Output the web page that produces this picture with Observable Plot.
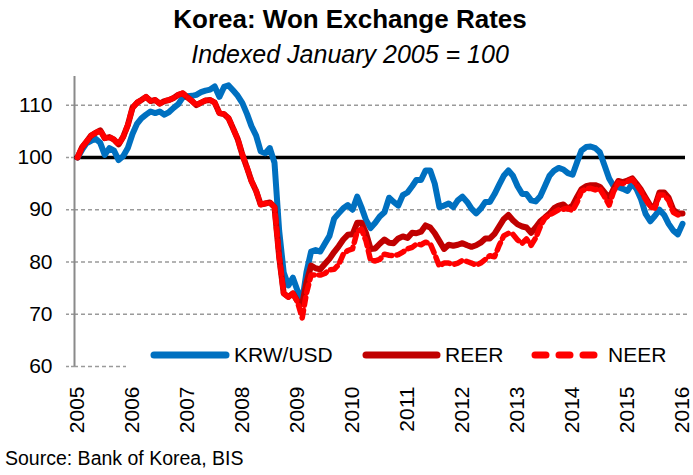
<!DOCTYPE html>
<html>
<head>
<meta charset="utf-8">
<script src="https://cdn.jsdelivr.net/npm/d3@7"></script>
<script src="https://cdn.jsdelivr.net/npm/@observablehq/plot@0.6"></script>
<style>
  html, body { margin: 0; padding: 0; background: #fff; }
  body { font-family: "Liberation Sans", Arial, sans-serif; color: #000; }
  #wrap { position: relative; width: 693px; height: 475px; overflow: hidden; }
  .abs { position: absolute; white-space: nowrap; }
  #title { left: 0; width: 700px; text-align: center; top: 6px; font-size: 26px; line-height: 26px; font-weight: bold; }
  #subtitle { left: 0; width: 700px; text-align: center; top: 42px; font-size: 25px; line-height: 25px; font-style: italic; }
  #chart { left: 0; top: 68px; }
  #legend { left: 126px; top: 338px; width: 566px; height: 34px; background: #fff; }
  .lg { position: absolute; top: 0; height: 34px; display: flex; align-items: center; font-size: 21px; }
  #source { left: 5px; top: 449px; font-size: 19.5px; line-height: 19.5px; }
</style>
</head>
<body>
<div id="wrap">
  <div id="title" class="abs">Korea: Won Exchange Rates</div>
  <div id="subtitle" class="abs">Indexed January 2005 = 100</div>
  <div id="chart" class="abs"></div>
  <div id="legend" class="abs"></div>
  <div id="source" class="abs">Source: Bank of Korea, BIS</div>
</div>
<script>
// ---- data (monthly, Jan 2005 .. Jan 2016), indexed Jan 2005 = 100 ----
const startYear = 2005;
const yearTicks = [2005, 2006, 2007, 2008, 2009, 2010, 2011, 2012, 2013, 2014, 2015, 2016];
const yTicks = [60, 70, 80, 90, 100, 110];
const gridValues = [60, 70, 80, 90, 110];
const baseline = [100];
const seriesNames = ["KRW/USD", "REER", "NEER"];

const krwUsd = [
  100, 101.5, 102.7, 103.2, 103.6, 102.8, 100.5, 101.8, 101.3, 99.5, 100.3, 101.8,
  104.5, 106.5, 107.5, 108.2, 108.8, 108.5, 108.8, 108.2, 108.7, 109.5, 110.2, 111.5,
  111.7, 111.8, 112, 112.5, 112.8, 113, 113.6, 111.6, 113.5, 113.8, 112.8, 111.8,
  110.4, 108.3, 106, 104.2, 101.2, 100.8, 101.8, 99, 86, 78, 75.5, 77,
  74.5, 72.5, 78, 82, 82.3, 82, 83.5, 85, 88.3, 89.3, 90.3, 90.9,
  90, 92.5, 90.5, 88, 86.5, 87.5, 88.7, 89.5, 92.3, 91.5, 90.8, 92.8,
  93.3, 94.5, 95.7, 95.7, 97.5, 97.5, 95, 90.5, 90.8, 91.2, 90.5, 91.8,
  92.5, 91.5, 90.2, 89.3, 90.2, 91.5, 91.5, 93, 94.8, 96.5, 97.5, 96.5,
  94.5, 93, 93, 91.8, 91.6, 92.6, 94.5, 96.5, 97.5, 98, 97.7, 97,
  96.7, 99.2, 101.3, 102, 102.1, 101.8, 101, 98.5, 96, 94.5, 94.3, 94,
  93.6, 95, 94, 92, 89.2, 87.8, 88.8, 90, 89, 87.3, 86, 85.3,
  87.3
];

const reer = [
  100, 102, 103, 104.2, 104.7, 105.2, 103.7, 103.9, 103.4, 102.5, 104, 106.2,
  109.5, 110.5, 111, 111.6, 110.8, 111, 110.3, 110.8, 111, 111.4, 112, 112.3,
  111.5, 110.8, 110, 110.5, 110.9, 111, 110.5, 108.5, 108.3, 107.5, 105.5, 103.5,
  100.5, 98, 95.5, 93.6, 91, 91.2, 91.4, 90.5, 81, 74, 73.3, 74,
  72.5, 72, 76, 79.3, 78.8, 78.6, 79.6, 80.6, 81.9, 83, 84.3, 85.2,
  85.3, 87.5, 87.5, 85.5, 82.5, 82.6, 83.5, 84.3, 83.7, 83.6, 84.5, 84.9,
  84.6, 85.6, 85.5, 85.8, 87, 86.6, 85.5, 84, 82.5, 83.3, 83.1, 83.3,
  83.6, 83.2, 82.9, 83.2, 83.7, 84.5, 84.5, 85.4, 86.8, 88.2, 89, 88,
  87.2, 86.8, 86.6, 85.6, 86.6, 87.8, 88.5, 89.3, 90.3, 90.8, 91, 90.2,
  90.8, 92.5, 93.9, 94.5, 94.7, 94.7, 94.4, 93.3, 92.2, 94, 95.5, 95.3,
  95.6, 96, 95, 93.8, 92.3, 90.8, 90.6, 93.3, 93.3, 92.3, 90, 89.3,
  89.3
];

const neer = [
  100, 102, 103, 104.2, 104.7, 105.2, 103.7, 103.9, 103.4, 102.5, 104, 106.2,
  109.5, 110.5, 111, 111.6, 110.8, 111, 110.3, 110.8, 111, 111.4, 112, 112.3,
  111.5, 110.8, 110, 110.5, 110.9, 111, 110.5, 108.5, 108.3, 107.5, 105.5, 103.5,
  100.5, 98, 95.5, 93.6, 91, 91.2, 91.4, 90.5, 81, 74, 73.3, 74,
  72.3, 69.3, 74, 77.5, 77.5, 77.5, 77.8, 78.5, 78.6, 79.5, 81.5, 82.2,
  82.5, 85.8, 86.3, 84, 80.3, 80.2, 80.5, 81.5, 81.3, 81.2, 81.4, 81.9,
  82.5, 82.8, 83.4, 83.3, 83.8, 83.5, 81.5, 79.2, 79.8, 79.8, 79.5, 79.8,
  80.3, 80.1, 79.8, 79.4, 79.8, 80.5, 81.2, 81, 83.2, 85, 85.5, 85.3,
  84.2, 83.6, 84.4, 83.2, 84.6, 86.8, 88.4, 89, 89.5, 90, 90.1, 90.3,
  89.8, 91.5, 93.5, 94, 94.1, 93.8, 94, 92.5, 90.9, 93.5, 95.2, 95,
  95.4, 95.8, 94.8, 93.5, 92, 90.5, 90.3, 92.8, 92.8, 91.8, 89.5, 89,
  89
];

const colors = { "KRW/USD": "#0070C0", "REER": "#C00000", "NEER": "#FF0000" };

// ---- build tables ----
const monthDate = i => new Date(Date.UTC(startYear, i, 1));
const rows = [];
[krwUsd, reer, neer].forEach((arr, k) => {
  arr.forEach((v, i) => rows.push({ date: monthDate(i), value: v, series: seriesNames[k] }));
});
const bySeries = name => rows.filter(d => d.series === name);
const tickDates = yearTicks.map(y => new Date(Date.UTC(y, 0, 1)));

const chart = Plot.plot({
  width: 693,
  height: 370,
  marginLeft: 77,
  marginRight: 11,
  marginTop: 8,
  marginBottom: 72,
  style: { fontFamily: "'Liberation Sans', Arial, sans-serif", background: "transparent", color: "#000", overflow: "visible" },
  x: { type: "utc", domain: [tickDates[0], tickDates[tickDates.length - 1]], label: null },
  y: { domain: [60, 115.5], label: null },
  marks: [
    Plot.ruleY(gridValues, { stroke: "#9a9a9a", strokeWidth: 1.3, strokeDasharray: "4,3", insetLeft: -3, insetRight: -5 }),
    Plot.axisY({ ticks: yTicks, label: null, tickSize: 8, tickPadding: 14, dx: -3, stroke: "#9a9a9a", strokeWidth: 1.3, strokeDasharray: "3,2", fontSize: 21, fill: "#000", tickFormat: d => String(d) }),
    Plot.ruleX([tickDates[0]], { stroke: "#8a8a8a", strokeWidth: 2, dx: -3 }),
    Plot.ruleY(baseline, { stroke: "#000", strokeWidth: 3.5, insetLeft: -3, insetRight: -3 }),
    Plot.line(bySeries("KRW/USD"), { x: "date", y: "value", stroke: colors["KRW/USD"], strokeWidth: 6, strokeLinejoin: "round", strokeLinecap: "round" }),
    Plot.line(bySeries("REER"), { x: "date", y: "value", stroke: colors["REER"], strokeWidth: 6, strokeLinejoin: "round", strokeLinecap: "round" }),
    Plot.line(bySeries("NEER"), { x: "date", y: "value", stroke: colors["NEER"], strokeWidth: 5.5, strokeDasharray: "8,5", strokeLinejoin: "round" }),
    Plot.axisX({ ticks: tickDates, label: null, tickFormat: d3.utcFormat("%Y"), tickRotate: -90, tickSize: 0, tickPadding: 20, fontSize: 21, fill: "#000" })
  ]
});
document.getElementById("chart").appendChild(chart);

// ---- legend ----
const legendItems = [
  { name: "KRW/USD", left: 24, w: 72, dash: null },
  { name: "REER", left: 236, w: 71, dash: null },
  { name: "NEER", left: 405, w: 65, dash: "11,13" }
];
const legend = document.getElementById("legend");
legendItems.forEach(it => {
  const div = document.createElement("div");
  div.className = "lg";
  div.style.left = it.left + "px";
  const svg = `<svg width="${it.w + 8}" height="14" style="margin-right:4px">
    <line x1="4" y1="7" x2="${it.w + 4}" y2="7" stroke="${colors[it.name]}" stroke-width="7" stroke-linecap="round" ${it.dash ? `stroke-dasharray="${it.dash}"` : ""}/></svg>`;
  div.innerHTML = svg + `<span>${it.name}</span>`;
  legend.appendChild(div);
});
</script>
</body>
</html>
